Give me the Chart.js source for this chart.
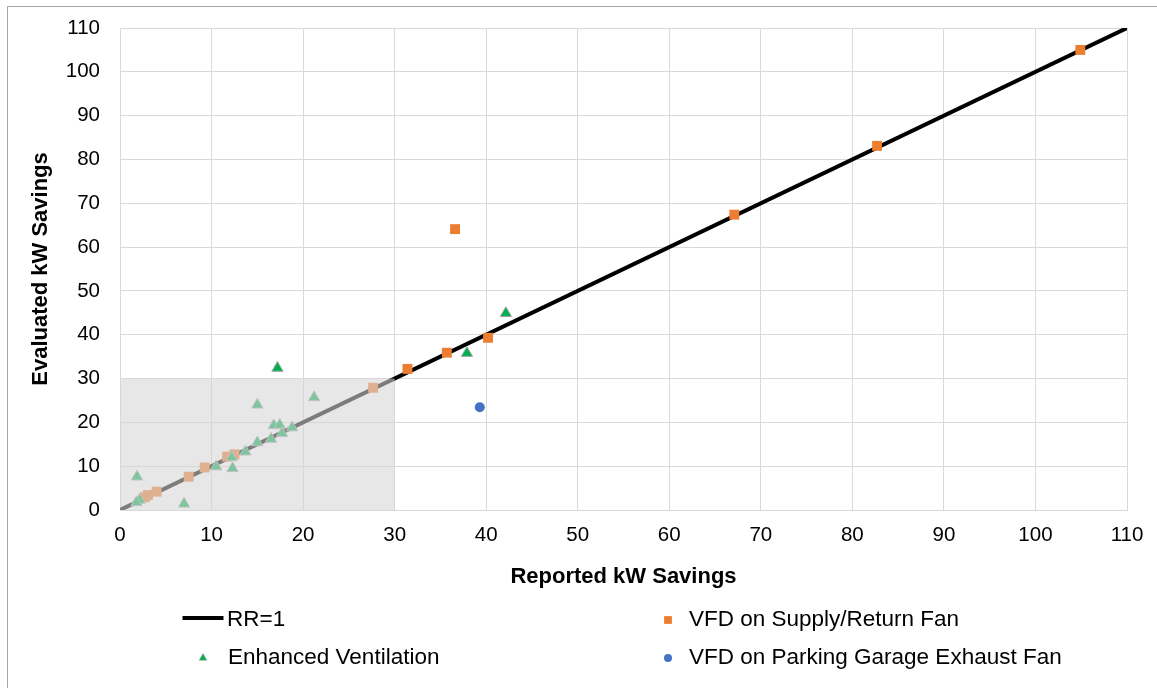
<!DOCTYPE html>
<html>
<head>
<meta charset="utf-8">
<script src="https://cdn.jsdelivr.net/npm/chart.js@4"></script>
<style>
  html, body { margin: 0; padding: 0; background: #fff; }
  #frame {
    position: absolute; left: 7px; top: 6px;
    width: 1300px; height: 800px;
    border: 1px solid #a6a6a6;
  }
  #wrap { position: absolute; left: 0; top: 0; width: 1157px; height: 688px; }
</style>
</head>
<body>
<div id="frame"></div>
<div id="wrap"><canvas id="rrChart"></canvas></div>
<script>
// Axis range (kW)
const axisMin = 0;
const axisMax = 110;
const axisStep = 10;
const shadeMax = 30;

// RR=1 reference line
const rrX = [0, 110];
const rrY = [0, 110];

// VFD on Supply/Return Fan
const supplyX = [104.9, 82.7, 67.1, 36.6, 40.2, 35.7, 31.4, 27.65, 12.5, 11.7, 9.25, 7.5, 4.0, 3.05, 2.7];
const supplyY = [105.0, 83.1, 67.4, 64.1, 39.3, 35.9, 32.2, 27.9, 12.7, 12.2, 9.7, 7.6, 4.2, 3.4, 2.9];

// Enhanced Ventilation
const ventX = [17.2, 42.15, 37.9, 21.2, 15.0, 16.8, 17.45, 18.8, 17.7, 16.5, 15.0, 13.7, 12.2, 10.5, 12.3, 1.86, 2.15, 1.8, 7.0];
const ventY = [32.4, 44.9, 35.8, 25.7, 24.0, 19.3, 19.4, 18.8, 17.5, 16.2, 15.4, 13.3, 12.0, 9.9, 9.5, 7.6, 2.3, 1.75, 1.4];

// VFD on Parking Garage Exhaust Fan
const garageX = [39.3];
const garageY = [23.45];

const toPoints = (xs, ys) => xs.map((x, i) => ({ x: x, y: ys[i] }));

const FONT = '"Liberation Sans", Arial, sans-serif';

// grey box over the 0-30 region, drawn on top of the marks
const shadePlugin = {
  id: "shadeBox",
  afterDatasetsDraw(chart) {
    const { ctx, scales } = chart;
    const x0 = scales.x.getPixelForValue(axisMin);
    const x1 = scales.x.getPixelForValue(shadeMax);
    const y0 = scales.y.getPixelForValue(axisMin);
    const y1 = scales.y.getPixelForValue(shadeMax);
    ctx.save();
    ctx.fillStyle = "rgba(214, 214, 214, 0.58)";
    ctx.fillRect(x0, y1, x1 - x0, y0 - y1);
    ctx.restore();
  },
};

// two-column legend like the Excel one
const gridLegend = {
  id: "gridLegend",
  afterDraw(chart) {
    const ctx = chart.ctx;
    const markerX = [203, 668];
    const textX = [228, 689];
    const rowY = [620, 658];
    ctx.save();
    ctx.textBaseline = "middle";
    ctx.font = "22.5px " + FONT;
    chart.data.datasets.forEach((ds, i) => {
      const col = i % 2;
      const row = Math.floor(i / 2);
      const x = markerX[col];
      const y = rowY[row];
      if (ds.showLine) {
        ctx.strokeStyle = ds.borderColor;
        ctx.lineWidth = ds.borderWidth;
        ctx.beginPath();
        ctx.moveTo(x - 20.5, y - 2);
        ctx.lineTo(x + 20.5, y - 2);
        ctx.stroke();
      } else {
        ctx.fillStyle = ds.pointBackgroundColor;
        ctx.strokeStyle = ds.pointBorderColor;
        ctx.lineWidth = 0.5;
        Chart.helpers.drawPoint(ctx, {
          pointStyle: ds.pointStyle,
          radius: ds.legendRadius,
          rotation: 0,
          borderWidth: ds.pointStyle === "triangle" ? 0.5 : 0,
        }, x, y);
      }
      ctx.fillStyle = "#000";
      ctx.fillText(ds.label, ds.showLine ? textX[col] - 1 : textX[col], y);
    });
    ctx.restore();
  },
};

const ctx = document.getElementById("rrChart").getContext("2d");
new Chart(ctx, {
  type: "scatter",
  data: {
    datasets: [
      {
        label: "RR=1",
        data: toPoints(rrX, rrY),
        showLine: true,
        borderColor: "#000",
        borderWidth: 4,
        pointRadius: 0,
        order: 4,
      },
      {
        label: "VFD on Supply/Return Fan",
        data: toPoints(supplyX, supplyY),
        pointStyle: "rect",
        pointRadius: 7,
        pointBackgroundColor: "#ED7D31",
        pointBorderColor: "#ED7D31",
        pointBorderWidth: 0,
        legendRadius: 5.5,
        order: 3,
      },
      {
        label: "Enhanced Ventilation",
        data: toPoints(ventX, ventY),
        pointStyle: "triangle",
        pointRadius: 6.5,
        pointBackgroundColor: "#00B050",
        pointBorderColor: "#A5A5A5",
        pointBorderWidth: 1,
        legendRadius: 4.5,
        order: 2,
      },
      {
        label: "VFD on Parking Garage Exhaust Fan",
        data: toPoints(garageX, garageY),
        pointStyle: "circle",
        pointRadius: 5,
        pointBackgroundColor: "#4472C4",
        pointBorderColor: "#4472C4",
        pointBorderWidth: 0,
        legendRadius: 4,
        order: 1,
      },
    ],
  },
  options: {
    responsive: true,
    maintainAspectRatio: false,
    animation: false,
    layout: { padding: { left: 28, top: 28, right: 30, bottom: 98 } },
    scales: {
      x: {
        type: "linear",
        min: axisMin,
        max: axisMax,
        afterFit: (scale) => {
          scale.height = 80;
          scale.paddingLeft = 10;
          scale.paddingRight = 20;
        },
        ticks: {
          stepSize: axisStep,
          padding: 13,
          color: "#000",
          font: { family: FONT, size: 20.5 },
        },
        grid: { color: "#d9d9d9", drawTicks: false },
        border: { color: "#d9d9d9" },
        title: {
          display: true,
          text: "Reported kW Savings",
          color: "#000",
          padding: { top: 0, bottom: 0 },
          font: { family: FONT, size: 22, weight: "bold" },
        },
      },
      y: {
        type: "linear",
        min: axisMin,
        max: axisMax,
        afterFit: (scale) => {
          scale.width = 92;
          scale.paddingTop = 12;
          scale.paddingBottom = 12;
        },
        ticks: {
          stepSize: axisStep,
          padding: 20,
          color: "#000",
          font: { family: FONT, size: 20.5 },
        },
        grid: { color: "#d9d9d9", drawTicks: false },
        border: { color: "#d9d9d9" },
        title: {
          display: true,
          text: "Evaluated kW Savings",
          color: "#000",
          padding: { top: 0, bottom: 0 },
          font: { family: FONT, size: 22, weight: "bold" },
        },
      },
    },
    plugins: {
      legend: { display: false },
      tooltip: { enabled: false },
    },
  },
  plugins: [shadePlugin, gridLegend],
});
</script>
</body>
</html>
